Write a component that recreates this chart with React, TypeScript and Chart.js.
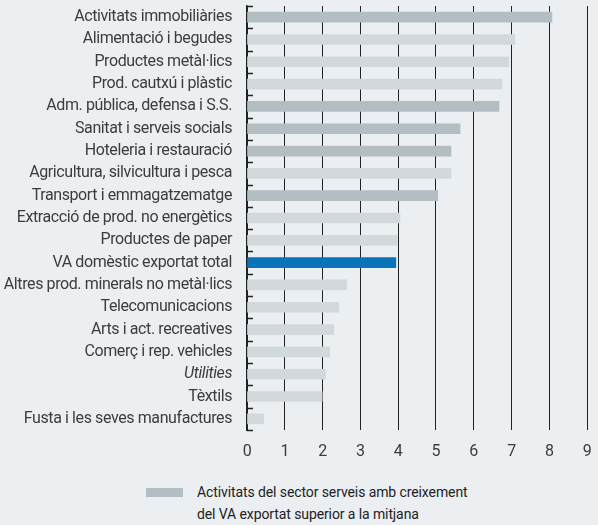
import React, { useEffect, useRef } from "react";
import { Chart, registerables } from "chart.js";

Chart.register(...registerables);

const categories = [
  "Activitats immobiliàries",
  "Alimentació i begudes",
  "Productes metàl·lics",
  "Prod. cautxú i plàstic",
  "Adm. pública, defensa i S.S.",
  "Sanitat i serveis socials",
  "Hoteleria i restauració",
  "Agricultura, silvicultura i pesca",
  "Transport i emmagatzematge",
  "Extracció de prod. no energètics",
  "Productes de paper",
  "VA domèstic exportat total",
  "Altres prod. minerals no metàl·lics",
  "Telecomunicacions",
  "Arts i act. recreatives",
  "Comerç i rep. vehicles",
  "Utilities",
  "Tèxtils",
  "Fusta i les seves manufactures",
];

const values = [8.07, 7.09, 6.93, 6.75, 6.67, 5.64, 5.4, 5.4, 5.05, 4.05, 3.98, 3.94, 2.64, 2.43, 2.3, 2.19, 2.08, 1.99, 0.44];

// "s" = services above average, "o" = other, "t" = total
const groups = ["s", "o", "o", "o", "s", "s", "s", "o", "s", "o", "o", "t", "o", "o", "o", "o", "o", "o", "o"];

const italicLabels = ["Utilities"];

const xTicks = [0, 1, 2, 3, 4, 5, 6, 7, 8, 9];

const legendLines = [
  "Activitats del sector serveis amb creixement",
  "del VA exportat superior a la mitjana",
];

const COLORS: Record<string, string> = {
  s: "#b2bec1",
  o: "#d2d9dc",
  t: "#0a73ba",
};
const BG = "#ebeff2";
const FONT = "Roboto, 'Noto Sans', sans-serif";

const tightText = {
  id: "tightText",
  beforeDraw(chart: any) {
    (chart.ctx as any).letterSpacing = "-0.4px";
  },
};

const innerTicks = {
  id: "innerTicks",
  afterDraw(chart: any) {
    const y = chart.scales.y;
    const ctx = chart.ctx;
    const left = chart.chartArea.left;
    ctx.save();
    ctx.strokeStyle = "#222";
    ctx.lineWidth = 1.5;
    for (let i = 0; i <= categories.length; i++) {
      const py = Math.round(y.getPixelForValue(i - 0.5)) + 0.5;
      ctx.beginPath();
      ctx.moveTo(left, py);
      ctx.lineTo(left + 6, py);
      ctx.stroke();
    }
    ctx.restore();
  },
};

export default function App() {
  const ref = useRef<HTMLCanvasElement>(null);
  useEffect(() => {
    document.body.style.margin = "0";
    const chart = new Chart(ref.current!, {
      type: "bar",
      data: {
        labels: categories,
        datasets: [
          {
            data: values,
            backgroundColor: groups.map((g) => COLORS[g]),
            barThickness: 10,
          },
        ],
      },
      options: {
        indexAxis: "y",
        animation: false,
        responsive: false,
        maintainAspectRatio: false,
        layout: { padding: { top: 6, right: 11, left: 0, bottom: 0 } },
        plugins: { legend: { display: false }, tooltip: { enabled: false } },
        scales: {
          x: {
            min: 0,
            max: 9,
            afterFit: (s: any) => {
              s.height = 40;
              s.paddingLeft = 0;
              s.paddingRight = 0;
            },
            afterBuildTicks: (s: any) => {
              s.ticks = xTicks.map((v) => ({ value: v }));
            },
            grid: { color: "#222", lineWidth: 1, drawTicks: false },
            border: { display: false },
            ticks: {
              padding: 12,
              color: "#3c3c3c",
              font: { family: FONT, size: 16 },
            },
          },
          y: {
            afterFit: (s: any) => {
              s.width = 247;
              s.paddingTop = 0;
              s.paddingBottom = 0;
            },
            grid: { display: false, drawTicks: false },
            border: { display: true, color: "#222", width: 1.5 },
            ticks: {
              padding: 15,
              color: "#3c3c3c",
              autoSkip: false,
              font: (c: any) => ({
                family: FONT,
                size: 16,
                style: italicLabels.includes(categories[c.index]) ? "italic" : "normal",
              }),
            },
          },
        },
      },
      plugins: [tightText, innerTicks],
    });
    return () => chart.destroy();
  }, []);

  return (
    <div style={{ position: "fixed", left: 0, top: 0, width: 598, height: 525, background: BG, fontFamily: FONT }}>
      <canvas ref={ref} width={598} height={470} style={{ display: "block" }} />
      <div style={{ position: "absolute", left: 146, top: 488, width: 37, height: 9, background: COLORS.s }} />
      <div style={{ position: "absolute", left: 197, top: 481, fontSize: 14, lineHeight: "22px", color: "#222", letterSpacing: "-0.1px" }}>
        {legendLines.map((l, i) => (
          <div key={i}>{l}</div>
        ))}
      </div>
    </div>
  );
}
